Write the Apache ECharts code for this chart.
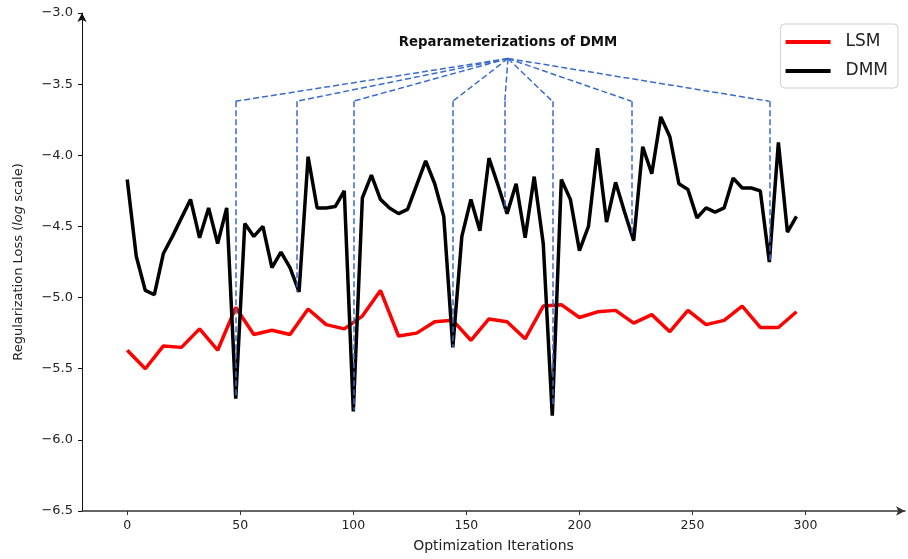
<!DOCTYPE html>
<html>
<head>
<meta charset="utf-8">
<script src="https://cdn.jsdelivr.net/npm/echarts@6/dist/echarts.min.js"></script>
<style>
  html, body { margin: 0; padding: 0; background: #fff; }
  #chart { width: 908px; height: 559px; }
</style>
</head>
<body>
<div id="chart"></div>
<script>
// LSM is logged every 8 iterations, DMM every 4
const lsmStep = 8;
const lsmLoss = [
  -5.37, -5.50, -5.34, -5.35, -5.22, -5.37, -5.07, -5.26, -5.23, -5.26,
  -5.08, -5.19, -5.22, -5.13, -4.95, -5.27, -5.25, -5.17, -5.16, -5.30,
  -5.15, -5.17, -5.29, -5.06, -5.05, -5.14, -5.10, -5.09, -5.18, -5.12,
  -5.24, -5.09, -5.19, -5.16, -5.06, -5.21, -5.21, -5.10
];
const dmmStep = 4;
const dmmLoss = [
  -4.17, -4.71, -4.95, -4.98, -4.69, -4.57, -4.44, -4.31, -4.58, -4.37,
  -4.62, -4.37, -5.71, -4.48, -4.57, -4.50, -4.79, -4.68, -4.79, -4.96,
  -4.01, -4.37, -4.37, -4.36, -4.25, -5.80, -4.30, -4.14, -4.31, -4.37,
  -4.41, -4.38, -4.21, -4.04, -4.20, -4.43, -5.35, -4.57, -4.31, -4.53,
  -4.02, -4.21, -4.41, -4.20, -4.58, -4.15, -4.62, -5.83, -4.17, -4.31,
  -4.67, -4.50, -3.95, -4.47, -4.19, -4.40, -4.60, -3.94, -4.13, -3.73,
  -3.87, -4.20, -4.24, -4.44, -4.37, -4.40, -4.37, -4.16, -4.23, -4.23,
  -4.25, -4.75, -3.91, -4.54, -4.43
];

// annotation: where each reparameterization happens and where its bracket ends
const reparamIters = [48, 75, 100, 144, 167, 188, 223, 284];
const reparamEnds = [-5.70, -4.96, -5.79, -5.35, -4.39, -5.76, -4.57, -4.75];
const annoApex = [168.4, -3.32];
const annoCornerY = -3.62;

const xTicks = [0, 50, 100, 150, 200, 250, 300];

const lsmData = lsmLoss.map((v, i) => [i * lsmStep, v]);
const dmmData = dmmLoss.map((v, i) => [i * dmmStep, v]);

const bracketLines = [];
reparamIters.forEach((x, k) => {
  bracketLines.push([{ coord: annoApex }, { coord: [x, annoCornerY] }]);
  bracketLines.push([{ coord: [x, annoCornerY] }, { coord: [x, reparamEnds[k]] }]);
});

const font = 'DejaVu Sans';
const chart = echarts.init(document.getElementById('chart'));

const option = {
  animation: false,
  textStyle: { fontFamily: font },
  grid: { left: 82, right: 3, top: 13, bottom: 48, containLabel: false },
  legend: {
    data: ['LSM', 'DMM'],
    orient: 'vertical',
    right: 10,
    top: 24,
    padding: [8, 10, 7, 5],
    icon: 'rect',
    itemWidth: 45,
    itemHeight: 4,
    itemGap: 9,
    borderColor: '#d0d0d0',
    borderWidth: 1,
    borderRadius: 4,
    textStyle: { fontSize: 17, lineHeight: 20, color: '#222', fontFamily: font, padding: [0, 0, 0, 10] }
  },
  graphic: [{
    type: 'text',
    x: 508,
    y: 43,
    style: {
      text: 'Reparameterizations of DMM',
      font: 'bold 13.3px "DejaVu Sans"',
      fill: '#111',
      textAlign: 'center',
      textVerticalAlign: 'middle'
    }
  }],
  xAxis: {
    type: 'value',
    min: -20,
    max: 344,
    name: 'Optimization Iterations',
    nameLocation: 'middle',
    nameGap: 28,
    nameTextStyle: { fontSize: 14, color: '#222' },
    splitLine: { show: false },
    axisLine: {
      show: true,
      symbol: ['none', 'arrow'],
      symbolSize: [7, 9],
      lineStyle: { color: '#333', width: 1.5 }
    },
    axisTick: { customValues: xTicks, length: 4, lineStyle: { color: '#333' } },
    axisLabel: {
      customValues: xTicks,
      fontSize: 12.5,
      color: '#222',
      margin: 8
    }
  },
  yAxis: {
    type: 'value',
    min: -6.5,
    max: -3.0,
    interval: 0.5,
    name: 'Regularization Loss ({i|log} scale)',
    nameLocation: 'middle',
    nameGap: 57,
    nameTextStyle: {
      fontSize: 13,
      color: '#222',
      rich: { i: { fontStyle: 'italic', fontSize: 13, color: '#222' } }
    },
    splitLine: { show: false },
    axisLine: {
      show: true,
      onZero: false,
      symbol: ['none', 'arrow'],
      symbolSize: [7, 9],
      lineStyle: { color: '#111', width: 1 }
    },
    axisTick: { show: true, length: 4, lineStyle: { color: '#111' } },
    axisLabel: {
      fontSize: 13,
      color: '#222',
      margin: 9,
      formatter: v => (v < 0 ? '\u2212' : '') + Math.abs(v).toFixed(1)
    }
  },
  series: [
    {
      name: 'LSM',
      type: 'line',
      data: lsmData,
      symbol: 'none',
      color: '#ff0000',
      lineStyle: { color: '#ff0000', width: 3.5 },
      z: 2
    },
    {
      name: 'DMM',
      type: 'line',
      data: dmmData,
      symbol: 'none',
      color: '#000000',
      lineStyle: { color: '#000000', width: 3.5 },
      z: 3
    },
    {
      name: 'reparam',
      type: 'line',
      data: [],
      z: 5,
      markLine: {
        silent: true,
        symbol: ['none', 'none'],
        label: { show: false },
        lineStyle: { color: '#3a6bcc', width: 1.5, type: [6, 3] },
        data: bracketLines
      }
    }
  ]
};

chart.setOption(option);
</script>
</body>
</html>
